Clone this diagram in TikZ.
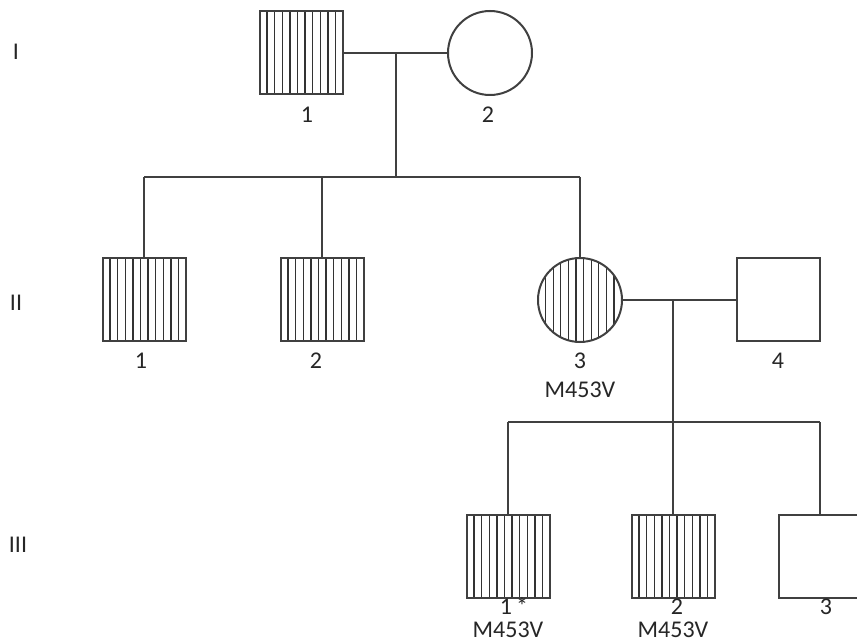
\documentclass[tikz,border=0pt]{standalone}
\usepackage{fontspec}
\setmainfont{Carlito}
\begin{document}
\begin{tikzpicture}[x=1pt,y=-1pt,
  every node/.style={font=\fontsize{24}{28}\selectfont, text=black!85},
  ln/.style={line width=2pt, draw=black!75},
  hatchline/.style={line width=1.3pt, draw=black!80},
  sq/.style={rectangle, draw=black!75, line width=2pt, minimum size=83pt, inner sep=0pt},
  cir/.style={circle, draw=black!75, line width=2pt, minimum size=84pt, inner sep=0pt},
  hatch/.style={path picture={
    \foreach \k in {1,...,10}{
      \draw[hatchline] ([xshift=\k*7.6pt]path picture bounding box.north west) -- ([xshift=\k*7.6pt]path picture bounding box.south west);
    }}},
  lab/.style={anchor=base, inner sep=0pt}
]
\useasboundingbox (0,0) rectangle (857,644);
\clip (0,0) rectangle (857,644);

% generation labels
\node[lab] (gI) at (16,60) {I};
\node[lab] (gII) at (16,311) {II};
\node[lab] (gIII) at (18,552) {III};

% generation I
\node[sq, hatch] (i1) at (301,53) {};
\node[cir] (i2) at (490,53) {};
\node[lab] (li1) at (307,123) {1};
\node[lab] (li2) at (488,123) {2};

% generation II
\node[sq, hatch] (ii1) at (144,300) {};
\node[sq, hatch] (ii2) at (322,300) {};
\node[cir, hatch] (ii3) at (580,300) {};
\node[sq] (ii4) at (778,300) {};
\node[lab] (lii1) at (141,368) {1};
\node[lab] (lii2) at (316,368) {2};
\node[lab] (lii3) at (580,368) {3};
\node[lab] (mii3) at (580,397) {M453V};
\node[lab] (lii4) at (778,368) {4};

% generation III
\node[sq, hatch] (iii1) at (508,556) {};
\node[sq, hatch] (iii2) at (673,556) {};
\node[sq] (iii3) at (820,556) {};
\node[lab] (liii1) at (514,614) {1\,*};
\node[lab] (miii1) at (508,637) {M453V};
\node[lab] (liii2) at (677,614) {2};
\node[lab] (miii2) at (673,637) {M453V};
\node[lab] (liii3) at (826,614) {3};

% connectors generation I
\coordinate (m1) at (396,53);
\coordinate (s1) at (396,177);
\coordinate (s1l) at (144,177);
\coordinate (s1m) at (322,177);
\coordinate (s1r) at (580,177);
\draw[ln] (i1.east) -- (i2.west);
\draw[ln] (m1) -- (s1);
\draw[ln] (s1l) -- (s1r);
\draw[ln] (s1l) -- (ii1.north);
\draw[ln] (s1m) -- (ii2.north);
\draw[ln] (s1r) -- (ii3.north);

% connectors generation II
\coordinate (m2) at (673,300);
\coordinate (s2) at (673,422);
\coordinate (s2l) at (508,422);
\coordinate (s2r) at (820,422);
\draw[ln] (ii3.east) -- (ii4.west);
\draw[ln] (m2) -- (s2);
\draw[ln] (s2l) -- (s2r);
\draw[ln] (s2l) -- (iii1.north);
\draw[ln] (s2) -- (iii2.north);
\draw[ln] (s2r) -- (iii3.north);
\end{tikzpicture}
\end{document}
